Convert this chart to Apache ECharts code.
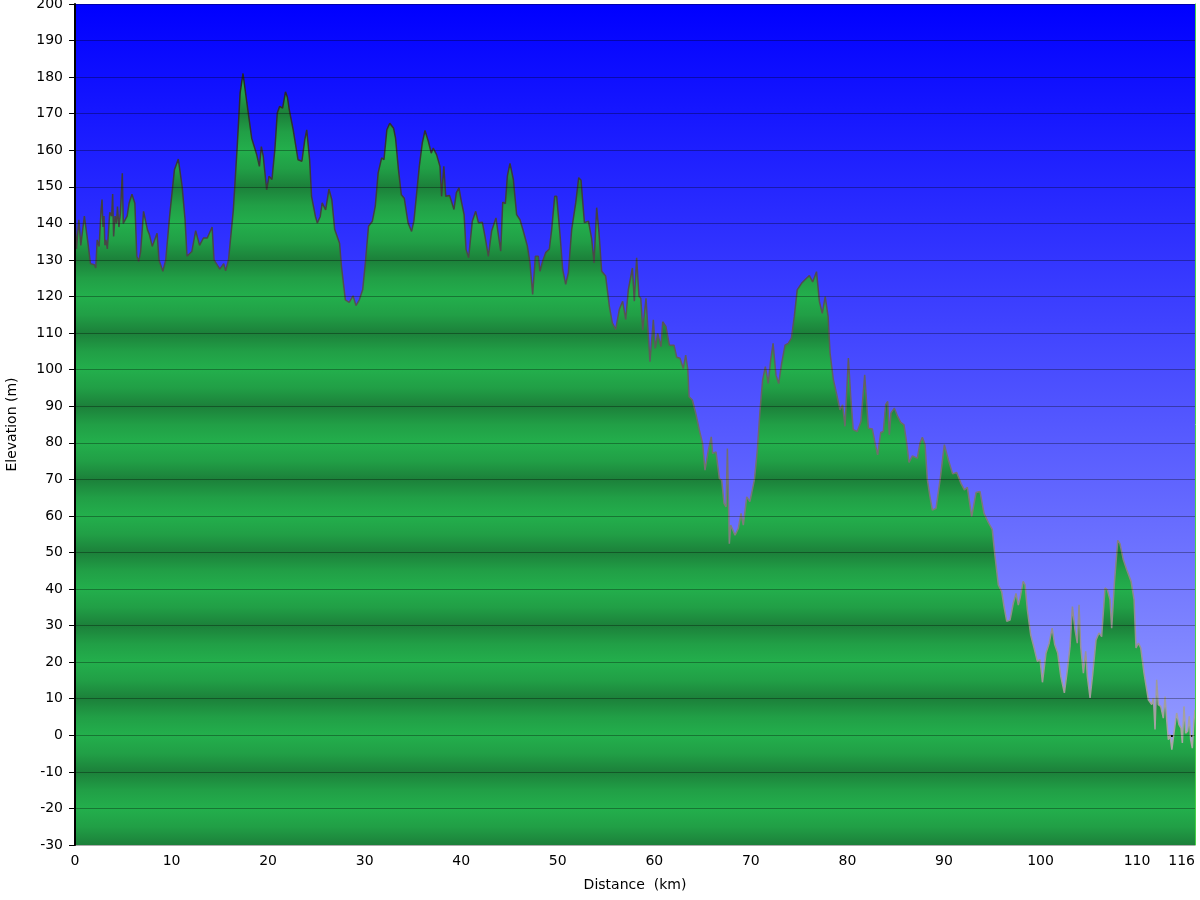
<!DOCTYPE html>
<html><head><meta charset="utf-8">
<script src="https://cdn.jsdelivr.net/npm/echarts@6/dist/echarts.min.js"></script>
<style>html,body{margin:0;padding:0;background:#fff}#c{width:1200px;height:900px}</style>
</head><body><div id="c"></div>
<script>
const distanceKm = [0,0.15,0.4,0.6,0.97,1.3,1.6,2.0,2.15,2.3,2.5,2.7,2.8,2.9,3.0,3.1,3.2,3.35,3.6,3.8,3.9,4.0,4.15,4.3,4.4,4.55,4.7,4.9,5.0,5.2,5.4,5.6,5.9,6.2,6.4,6.6,6.8,7.1,7.5,7.7,8.0,8.5,8.7,9.1,9.4,9.8,10.3,10.7,11.1,11.4,11.6,12.1,12.5,12.9,13.3,13.7,14.2,14.4,15.0,15.4,15.6,15.9,16.4,16.8,17.1,17.4,17.8,18.3,18.8,19.1,19.3,19.5,
19.85,20.1,20.4,20.7,20.95,21.2,21.5,21.8,22.0,22.2,22.6,23.1,23.5,23.8,24.0,24.3,24.5,24.9,25.1,25.4,25.6,25.96,26.3,26.6,26.9,27.4,27.6,28.0,28.4,28.8,29.1,29.45,29.8,30.1,30.4,30.8,31.1,31.4,31.76,32.0,32.3,32.6,33.0,33.2,33.5,33.8,34.1,34.5,34.86,35.1,35.3,35.66,35.97,36.25,36.6,36.9,37.1,37.45,37.8,37.97,38.2,38.4,38.8,
39.25,39.5,39.77,39.98,40.3,40.5,40.77,41.15,41.5,41.78,42.19,42.46,42.81,43.15,43.6,44.09,44.3,44.57,44.78,45.05,45.4,45.74,46.09,46.43,46.85,47.12,47.4,47.68,47.99,48.16,48.44,48.75,49.13,49.37,49.68,49.89,50.23,50.51,50.82,51.1,51.44,51.86,52.17,52.41,52.76,53.18,53.5,53.76,54.03,54.27,54.55,54.96,55.34,55.65,56.0,56.38,56.72,57.04,57.31,57.73,57.93,58.17,58.41,
58.6,58.8,59.14,59.55,59.9,60.1,60.35,60.69,60.87,61.2,61.56,62.04,62.32,62.66,63.0,63.25,63.46,63.6,63.94,64.3,64.66,65.0,65.25,65.6,65.9,66.04,66.39,66.74,66.98,67.22,67.43,67.57,67.77,67.91,68.36,68.7,68.98,69.22,69.57,69.9,70.36,70.67,70.95,71.22,71.5,71.8,72.05,72.3,72.6,72.88,73.19,73.54,73.87,74.2,74.5,74.8,75.25,75.68,76.06,76.4,76.8,77.1,77.4,77.7,78.0,78.2,
78.54,78.89,79.23,79.5,79.75,80.1,80.34,80.6,81.02,81.4,81.79,82.17,82.58,82.86,83.13,83.45,83.72,83.96,84.17,84.34,84.51,84.86,85.2,85.52,85.86,86.14,86.38,86.73,87.24,87.52,87.76,88.04,88.28,88.55,88.8,89.18,89.6,90.04,90.46,90.9,91.32,91.76,92.11,92.42,92.87,93.32,93.73,94.15,94.6,95.0,95.29,95.63,95.98,96.22,96.5,96.84,97.18,97.46,97.7,97.88,98.2,98.4,
98.64,98.98,99.33,99.67,99.95,100.2,100.57,100.9,101.2,101.47,101.78,102.1,102.47,102.78,103.06,103.3,103.57,103.81,103.99,104.16,104.44,104.68,104.85,105.13,105.4,105.75,106.06,106.33,106.68,106.92,107.2,107.37,107.65,108.0,108.23,108.58,108.93,109.38,109.69,109.89,110.14,110.38,110.72,111.17,111.52,111.69,111.86,112.03,112.2,112.45,112.72,112.9,113.07,113.24,113.41,113.6,113.82,114.1,114.34,114.55,114.69,114.86,115.03,115.24,115.41,115.55,115.72,115.9,116.0];
const elevationM = [142,133,141,134,142,135.5,129,128.7,127.8,135.5,133.7,143.7,146.5,139,142,134,135.5,133,143,142,148,136.4,142,140,144.6,139,142.8,153.7,140,140,142,145.5,148,145.5,131,129.6,132.3,143.3,138.3,137,133.7,137.3,130,126.9,130,142,154.7,157.6,150,141,131,132.3,138,134,136,136,139,130,127.5,129,127,130,143.7,161,175.6,181,173,163.3,159,155.6,161,158.3,
149.2,152.9,152,160.2,170.2,172,171.5,176,174.5,171,165.6,157.4,157,162.9,165.6,157.4,147.4,141.9,140.1,141.9,145.6,143.7,149.4,146.5,138.3,134.6,128.2,119.1,118.4,120.2,117.5,119.1,121.9,130,139.2,140.6,144.7,153.8,157.9,157.4,165.6,167.4,166,163.3,154.7,147.8,146.9,140.1,137.8,140.6,141,155.6,162,165.4,162.4,159.2,160.6,158.8,155.6,147.4,155.6,147.4,147.6,
143.8,148.4,149.7,146.5,142.4,132.9,130.6,140.6,143.3,140.2,140.3,136.5,131,137.9,141.5,132.4,145.8,145.4,152.9,156.4,152,142.4,141,137.9,133.8,129.2,120.6,131,131,126.9,129.7,132,133,138.3,147.4,147.4,137,127.4,123.3,126.5,138.3,145.6,152.5,151.8,140.2,140.6,136,129.2,144.3,137.4,126.9,125.6,117.4,112.8,111,116.5,118.7,113.7,121.9,127.8,118.7,130.6,120.1,
119.5,110.8,119.5,102.2,113.6,105.8,109.9,106.3,113.1,111.8,106.7,106.7,103.4,103.1,100.3,104,100.3,92.6,91.7,88,83.5,79.8,72.5,78,81.6,77.1,77.5,70.2,69.8,63.4,62.5,78.4,52.4,57.5,54.7,56.6,60.7,57.5,65.2,63.9,69.8,78,88.9,97.2,100.8,96.2,102.6,107.2,98.5,96.2,101.7,106.7,107.2,108.6,114.5,121.8,123.6,124.8,125.7,124,126.8,118.6,115.4,120,114.5,104.6,
97.3,93.2,89,90.4,84.5,103.2,92.7,83.6,83.1,85.8,98.6,84,83.8,79.9,76.7,82.8,83.1,90.4,91.3,82.2,88.1,89.5,87.2,85.6,84.9,79.9,74.6,76.4,75.8,79.9,81.5,79.5,69.9,65.3,61.6,62.1,69.9,79.5,75.3,71.5,71.9,68.9,67.1,67.8,59.8,66.4,66.7,60.7,58.2,56.3,48.9,41.1,39.3,35.2,31.2,31.5,36.1,38.8,35.6,37.5,42.1,41.2,
34.3,27.5,23.9,20.2,20.7,14.5,22.5,25.2,29.3,24.8,22.5,16.1,11.6,17.9,24.3,35.2,28.9,25.2,35.7,24.3,17,23,16.1,10.2,16.6,26.1,28,27,40.3,39.8,37.1,29.3,41.6,53.3,52.4,48,45.3,42.1,37.1,23.9,25.2,23.9,17,9.7,8.4,10.2,1.6,15.2,8.4,7.9,4.7,10.6,4.2,-1.2,0.2,-3.9,0.6,6.1,2.9,2,-2.1,7.9,0.6,1.1,5.2,-1.2,-3.5,4.2,7];

const yMin = -30, yMax = 200, yStep = 10;
const xMin = 0, xMax = 116, xStep = 10;
const xAxisTitle = 'Distance  (km)';
const yAxisTitle = 'Elevation (m)';

const GRID = {left: 75, right: 5, top: 4, bottom: 55};
const H = 900;
const plotTop = GRID.top, plotBottom = H - GRID.bottom;

// banded green fill: light at multiples of 20, dark at odd tens
const light = [35, 175, 76], dark = [28, 128, 58];
function rgb(c){return 'rgb(' + c.map(Math.round).join(',') + ')';}
function mix(a,b,t){return a.map((v,i)=>v+(b[i]-v)*t);}
const areaStops = [];
for (let v = yMax; v >= yMin; v -= yStep / 2) {
  const off = (yMax - v) / (yMax - yMin);
  const m = ((v % 20) + 20) % 20;
  let c;
  if (m === 0) c = light; else if (m === 10) c = dark; else c = mix(light, dark, 0.35);
  areaStops.push({offset: off, color: rgb(c)});
}

const data = distanceKm.map((d, i) => [d, elevationM[i]]);
const chart = echarts.init(document.getElementById('c'), null, {renderer: 'canvas'});
const labelFont = {fontFamily: 'DejaVu Sans', fontSize: 14, color: '#000'};

chart.setOption({
  animation: false,
  backgroundColor: '#ffffff',
  grid: {
    left: GRID.left, right: GRID.right, top: GRID.top, bottom: GRID.bottom,
    containLabel: false, outerBoundsMode: 'none',
    show: true, borderWidth: 0,
    backgroundColor: {type: 'linear', x: 0, y: 0, x2: 0, y2: 1,
      colorStops: [{offset: 0, color: '#0000ff'}, {offset: 1, color: '#a8b0ff'}]}
  },
  xAxis: {
    type: 'value', min: xMin, max: xMax, interval: xStep,
    name: xAxisTitle, nameLocation: 'middle', nameGap: 33,
    nameTextStyle: {fontFamily: 'DejaVu Sans', fontSize: 14, color: '#000'},
    axisLine: {show: true, lineStyle: {color: '#000', width: 2}},
    axisTick: {show: true, length: 5, lineStyle: {color: '#000', width: 1}},
    axisLabel: Object.assign({margin: 9, alignMaxLabel: 'right'}, labelFont),
    splitLine: {show: false}
  },
  yAxis: [{
    type: 'value', min: yMin, max: yMax, interval: yStep, z: 5,
    name: yAxisTitle, nameLocation: 'middle', nameGap: 56,
    nameTextStyle: {fontFamily: 'DejaVu Sans', fontSize: 14, color: '#000'},
    axisLine: {show: true, onZero: false, lineStyle: {color: '#000', width: 2}},
    axisTick: {show: true, length: 6, lineStyle: {color: '#000', width: 1}},
    axisLabel: Object.assign({margin: 12}, labelFont),
    splitLine: {show: true, lineStyle: {color: 'rgba(0,0,0,0.32)', width: 1}}
  }, {
    type: 'value', min: yMin, max: yMax, interval: yStep, position: 'right', z: 5,
    axisLine: {show: true, onZero: false, lineStyle: {color: '#46d246', width: 1}},
    axisTick: {show: false}, axisLabel: {show: false}, splitLine: {show: false}
  }],
  series: [{
    type: 'line',
    data: data,
    showSymbol: false,
    smooth: false,
    z: 2,
    lineStyle: {width: 1.5, color: {type: 'linear', global: true, x: 0, y: plotTop, x2: 0, y2: plotBottom,
      colorStops: [{offset: 0, color: 'rgb(25,25,25)'}, {offset: 1, color: 'rgb(190,185,185)'}]}},
    areaStyle: {origin: 'start', opacity: 1,
      color: {type: 'linear', global: true, x: 0, y: plotTop, x2: 0, y2: plotBottom, colorStops: areaStops}}
  }]
});
</script>
</body></html>
